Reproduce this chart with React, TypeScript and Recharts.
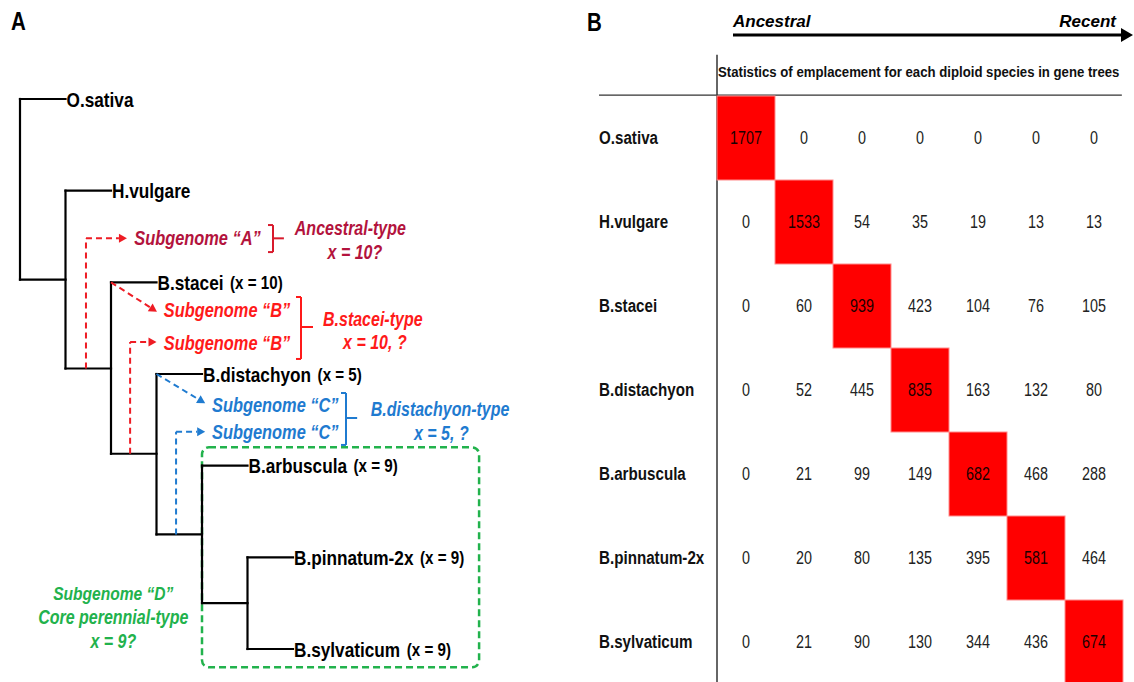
import React from 'react';
import { ComposedChart, Scatter, XAxis, YAxis, ReferenceLine, ReferenceArea } from 'recharts';

const FONT = "'Liberation Sans', Arial, sans-serif";
const SX = 0.82; // horizontal squeeze to imitate a narrow face

const DARKRED = '#b3133d';
const BRACKET_RED = '#d81a2c';
const RED = '#ff1a1a';
const DASH_RED = '#ee1c24';
const BLUE = '#1f7bd0';
const GREEN = '#22b24c';

// ---------------- Panel A : species tree ----------------
const leafNames = ['O.sativa', 'H.vulgare', 'B.stacei', 'B.distachyon', 'B.arbuscula', 'B.pinnatum-2x', 'B.sylvaticum'];
const leafChrom = ['', '', '(x = 10)', '(x = 5)', '(x = 9)', '(x = 9)', '(x = 9)'];
const leafDepth = [1, 2, 3, 4, 5, 6, 6];
const leafRow = [0, 1, 2, 3, 4, 5, 6];
const nodeDepth = [0, 1, 2, 3, 4, 5];
const nodeRow = [0.985, 1.97, 2.94, 3.87, 4.75, 5.5];
const nodeChildren = [['L0', 'N1'], ['L1', 'N2'], ['L2', 'N3'], ['L3', 'N4'], ['L4', 'N5'], ['L5', 'L6']];

// introgression arrows (tree coordinates: depth, row)
const arrowPaths = [
  { pts: [[1.45, 2.94], [1.45, 1.52], [2.35, 1.52]], color: DASH_RED },
  { pts: [[2.0, 2.0], [3.01, 2.32]], color: DASH_RED },
  { pts: [[2.42, 3.87], [2.42, 2.65], [3.0, 2.65]], color: DASH_RED },
  { pts: [[3.0, 3.0], [4.07, 3.32]], color: BLUE },
  { pts: [[3.43, 4.75], [3.43, 3.63], [4.07, 3.63]], color: BLUE },
];

const brackets = [
  { x: 5.56, hook: 5.45, top: 1.375, bottom: 1.67, mid: 1.52, tick: 5.8, color: BRACKET_RED },
  { x: 6.176, hook: 6.066, top: 2.16, bottom: 2.836, mid: 2.487, tick: 6.44, color: RED },
  { x: 7.165, hook: 7.055, top: 3.207, bottom: 3.774, mid: 3.48, tick: 7.41, color: BLUE },
];

const annoTexts = [
  { x: 2.51, y: 1.52, text: 'Subgenome “A”', color: DARKRED, size: 20, anchor: 'start' },
  { x: 3.16, y: 2.3, text: 'Subgenome “B”', color: RED, size: 20, anchor: 'start' },
  { x: 3.16, y: 2.66, text: 'Subgenome “B”', color: RED, size: 20, anchor: 'start' },
  { x: 4.22, y: 3.34, text: 'Subgenome “C”', color: BLUE, size: 20, anchor: 'start' },
  { x: 4.22, y: 3.63, text: 'Subgenome “C”', color: BLUE, size: 20, anchor: 'start' },
  { x: 6.04, y: 1.41, text: 'Ancestral-type', color: DARKRED, size: 19.5, anchor: 'start' },
  { x: 7.36, y: 1.67, text: 'x = 10?', color: DARKRED, size: 19.5, anchor: 'middle' },
  { x: 6.66, y: 2.41, text: 'B.stacei-type', color: RED, size: 19.5, anchor: 'start' },
  { x: 7.8, y: 2.66, text: 'x = 10, ?', color: RED, size: 19.5, anchor: 'middle' },
  { x: 7.71, y: 3.39, text: 'B.distachyon-type', color: BLUE, size: 19.5, anchor: 'start' },
  { x: 9.26, y: 3.65, text: 'x = 5, ?', color: BLUE, size: 19.5, anchor: 'middle' },
  { x: 2.05, y: 5.39, text: 'Subgenome “D”', color: GREEN, size: 19, anchor: 'middle' },
  { x: 2.05, y: 5.66, text: 'Core perennial-type', color: GREEN, size: 19.5, anchor: 'middle' },
  { x: 2.05, y: 5.92, text: 'x = 9?', color: GREEN, size: 19.5, anchor: 'middle' },
];

const coreBox = { x1: 4.0, x2: 10.09, y1: 3.8, y2: 6.2 };

// ---------------- Panel B : emplacement statistics ----------------
const rowSpecies = ['O.sativa', 'H.vulgare', 'B.stacei', 'B.distachyon', 'B.arbuscula', 'B.pinnatum-2x', 'B.sylvaticum'];
const rOsativa = [1707, 0, 0, 0, 0, 0, 0];
const rHvulgare = [0, 1533, 54, 35, 19, 13, 13];
const rBstacei = [0, 60, 939, 423, 104, 76, 105];
const rBdistachyon = [0, 52, 445, 835, 163, 132, 80];
const rBarbuscula = [0, 21, 99, 149, 682, 468, 288];
const rBpinnatum = [0, 20, 80, 135, 395, 581, 464];
const rBsylvaticum = [0, 21, 90, 130, 344, 436, 674];
const matrix = [rOsativa, rHvulgare, rBstacei, rBdistachyon, rBarbuscula, rBpinnatum, rBsylvaticum];
const headerText = 'Statistics of emplacement for each diploid species in gene trees';

// ---------------- helpers ----------------
const NText = ({ x, y, sx, children, ...rest }: any) => (
  <text transform={`translate(${x},${y}) scale(${sx ?? SX},1)`} x={0} y={0} fontFamily={FONT} {...rest}>
    {children}
  </text>
);

const posOf = (id: string) => {
  const i = Number(id.slice(1));
  return id[0] === 'L' ? { x: leafDepth[i], y: leafRow[i] } : { x: nodeDepth[i], y: nodeRow[i] };
};

const treeSegments: { a: { x: number; y: number }; b: { x: number; y: number } }[] = [];
nodeChildren.forEach((kids, i) => {
  const p = { x: nodeDepth[i], y: nodeRow[i] };
  const cs = kids.map(posOf);
  const ys = cs.map((c) => c.y);
  treeSegments.push({ a: { x: p.x, y: Math.min(...ys) }, b: { x: p.x, y: Math.max(...ys) } });
  cs.forEach((c) => treeSegments.push({ a: { x: p.x, y: c.y }, b: { x: c.x, y: c.y } }));
});

const leafData = leafNames.map((n, i) => ({ x: leafDepth[i], y: leafRow[i], name: n, chrom: leafChrom[i] }));

const arrowSegs: { a: any; b: any; color: string; head: boolean }[] = [];
arrowPaths.forEach((p) => {
  for (let k = 0; k < p.pts.length - 1; k++) {
    arrowSegs.push({
      a: { x: p.pts[k][0], y: p.pts[k][1] },
      b: { x: p.pts[k + 1][0], y: p.pts[k + 1][1] },
      color: p.color,
      head: k === p.pts.length - 2,
    });
  }
});

const bracketSegs: { a: any; b: any; color: string }[] = [];
brackets.forEach((b) => {
  bracketSegs.push({ a: { x: b.hook, y: b.top }, b: { x: b.x, y: b.top }, color: b.color });
  bracketSegs.push({ a: { x: b.x, y: b.top }, b: { x: b.x, y: b.bottom }, color: b.color });
  bracketSegs.push({ a: { x: b.hook, y: b.bottom }, b: { x: b.x, y: b.bottom }, color: b.color });
  bracketSegs.push({ a: { x: b.x, y: b.mid }, b: { x: b.tick, y: b.mid }, color: b.color });
});

const dashedArrow = (color: string, head: boolean) => (p: any) => {
  const { x1, y1, x2, y2 } = p;
  const dx = x2 - x1;
  const dy = y2 - y1;
  const len = Math.sqrt(dx * dx + dy * dy) || 1;
  const ux = dx / len;
  const uy = dy / len;
  const hl = 8;
  const hw = 4.5;
  const ex = head ? x2 - ux * hl : x2;
  const ey = head ? y2 - uy * hl : y2;
  return (
    <g>
      <line x1={x1} y1={y1} x2={ex} y2={ey} stroke={color} strokeWidth={2} strokeDasharray="6 4" />
      {head && (
        <polygon
          points={`${x2},${y2} ${ex - uy * hw},${ey + ux * hw} ${ex + uy * hw},${ey - ux * hw}`}
          fill={color}
        />
      )}
    </g>
  );
};

const LeafLabel = (p: any) => {
  const d = p.payload;
  return (
    <NText x={p.cx + 1} y={p.cy} dominantBaseline="central" fontWeight="bold" fill="#000">
      <tspan fontSize={21}>{d.name}</tspan>
      {d.chrom ? (
        <tspan fontSize={18.5} dx={8}>
          {d.chrom}
        </tspan>
      ) : null}
    </NText>
  );
};

const AnnoLabel = (p: any) => {
  const d = p.payload;
  return (
    <NText
      x={p.cx}
      y={p.cy}
      dominantBaseline="central"
      textAnchor={d.anchor}
      fontWeight="bold"
      fontStyle="italic"
      fontSize={d.size}
      fill={d.color}
    >
      {d.text}
    </NText>
  );
};

const CELL_W = 58;
const CELL_H = 84;

const cellData: { x: number; y: number; v: number }[] = [];
matrix.forEach((row, r) => row.forEach((v, c) => cellData.push({ x: c, y: r, v })));

const CellShape = (p: any) => {
  const d = p.payload;
  const diag = d.x === d.y;
  return (
    <g>
      {diag && (
        <rect
          x={p.cx - CELL_W / 2}
          y={p.cy - CELL_H / 2}
          width={CELL_W}
          height={CELL_H}
          fill="#ff0000"
          stroke="#ff8c8c"
          strokeWidth={1}
        />
      )}
      <NText
        x={p.cx}
        y={p.cy}
        textAnchor="middle"
        dominantBaseline="central"
        fontSize={17.5}
        fill={diag ? '#1a0000' : '#222'}
      >
        {d.v}
      </NText>
    </g>
  );
};

const RowTick = (p: any) => (
  <NText x={19} y={p.y} dominantBaseline="central" fontWeight="bold" fontSize={18.5} fill="#111">
    {rowSpecies[p.payload.value]}
  </NText>
);

const GreenBox = (p: any) => {
  const x = p.width < 0 ? p.x + p.width : p.x;
  const y = p.height < 0 ? p.y + p.height : p.y;
  return (
    <rect
      x={x}
      y={y}
      width={Math.abs(p.width)}
      height={Math.abs(p.height)}
      rx={7}
      ry={7}
      fill="none"
      stroke={GREEN}
      strokeWidth={2.5}
      strokeDasharray="7 4"
    />
  );
};

export default function App() {
  return (
    <div style={{ position: 'absolute', left: 0, top: 0, width: 1134, height: 682, overflow: 'hidden', background: '#fff' }}>
      <div style={{ position: 'absolute', left: 0, top: 0 }}>
        <ComposedChart width={580} height={682} margin={{ top: 99, right: 14, bottom: 33, left: 20 }}>
          <XAxis type="number" dataKey="x" domain={[0, 12]} hide />
          <YAxis type="number" dataKey="y" domain={[0, 6]} reversed hide />
          {treeSegments.map((s, i) => (
            <ReferenceLine
              key={'t' + i}
              segment={[s.a, s.b]}
              stroke="#000"
              strokeWidth={2.2}
              ifOverflow="visible"
              strokeLinecap="square"
            />
          ))}
          {arrowSegs.map((s, i) => (
            <ReferenceLine
              key={'a' + i}
              segment={[s.a, s.b]}
              ifOverflow="visible"
              shape={dashedArrow(s.color, s.head)}
            />
          ))}
          {bracketSegs.map((s, i) => (
            <ReferenceLine key={'b' + i} segment={[s.a, s.b]} stroke={s.color} strokeWidth={2} ifOverflow="visible" />
          ))}
          <ReferenceArea
            x1={coreBox.x1}
            x2={coreBox.x2}
            y1={coreBox.y1}
            y2={coreBox.y2}
            ifOverflow="visible"
            shape={GreenBox}
          />
          <Scatter data={leafData} shape={LeafLabel} isAnimationActive={false} />
          <Scatter data={annoTexts} shape={AnnoLabel} isAnimationActive={false} />
        </ComposedChart>
      </div>
      <div style={{ position: 'absolute', left: 580, top: 0 }}>
        <ComposedChart width={554} height={690} margin={{ top: 96, right: 11, bottom: 6, left: 19 }}>
          <XAxis type="number" dataKey="x" domain={[-0.5, 6.5]} hide />
          <YAxis
            type="number"
            dataKey="y"
            domain={[-0.5, 6.5]}
            reversed
            width={118}
            ticks={[0, 1, 2, 3, 4, 5, 6]}
            axisLine={false}
            tickLine={false}
            tick={RowTick}
          />
          <Scatter data={cellData} shape={CellShape} isAnimationActive={false} />
          <ReferenceLine
            segment={[{ x: -0.5, y: -0.99 }, { x: -0.5, y: 6.5 }]}
            stroke="#333"
            strokeWidth={1.5}
            ifOverflow="visible"
          />
          <ReferenceLine
            segment={[{ x: -2.534, y: -0.51 }, { x: 6.48, y: -0.51 }]}
            stroke="#333"
            strokeWidth={1.2}
            ifOverflow="visible"
          />
        </ComposedChart>
      </div>
      <svg width={1134} height={682} style={{ position: 'absolute', left: 0, top: 0, pointerEvents: 'none' }}>
        <NText x={11} y={30} fontWeight="bold" fontSize={25} fill="#000">
          A
        </NText>
        <NText x={587} y={31} fontWeight="bold" fontSize={25} fill="#000">
          B
        </NText>
        <text x={733} y={27} fontFamily={FONT} fontWeight="bold" fontStyle="italic" fontSize={17} fill="#000">
          Ancestral
        </text>
        <text x={1116} y={27} textAnchor="end" fontFamily={FONT} fontWeight="bold" fontStyle="italic" fontSize={17} fill="#000">
          Recent
        </text>
        <line x1={733} y1={35} x2={1123} y2={35} stroke="#000" strokeWidth={3} />
        <polygon points="1121,28 1133,35 1121,42" fill="#000" />
        <NText x={718} y={77} sx={0.88} fontWeight="bold" fontSize={15} fill="#111">
          {headerText}
        </NText>
      </svg>
    </div>
  );
}
